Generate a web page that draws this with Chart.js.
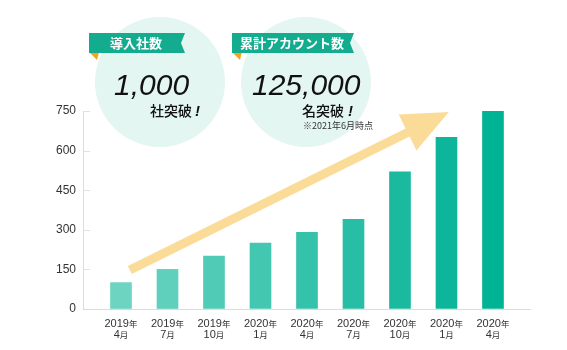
<!DOCTYPE html>
<html>
<head>
<meta charset="utf-8">
<script src="https://cdn.jsdelivr.net/npm/chart.js@4/dist/chart.umd.min.js"></script>
<style>
  html, body { margin: 0; padding: 0; background: #fff; }
</style>
</head>
<body>
<canvas id="chart" width="567" height="350"></canvas>
<script>
// data
var years = ['2019', '2019', '2019', '2020', '2020', '2020', '2020', '2020', '2020'];
var months = ['4', '7', '10', '1', '4', '7', '10', '1', '4'];
var companies = [100, 150, 200, 250, 290, 340, 520, 650, 750];
var yTicks = [0, 150, 300, 450, 600, 750];
var barColors = ['#6cd4c1', '#5ed0bb', '#50cbb5', '#43c7b0', '#35c2aa', '#28bea5', '#1bba9f', '#0db69a', '#00b394'];

// arrow in data units (x = category index, y = value)
var arrowFrom = { x: 0.19, y: 148 };
var arrowTo = { x: 7.05, y: 746 };

var numFont = '"Liberation Sans", "Noto Sans CJK JP", sans-serif';
var jpFont = '"Noto Sans CJK JP", sans-serif';

//decorations: circles, badges, arrow, x labels, inner ticks
var deco = {
    id: 'deco',
    beforeDraw: function (chart) {
        var c = chart.ctx;
        c.save();
        c.fillStyle = '#e3f6f2';
        c.beginPath();
        c.arc(160, 82, 65, 0, Math.PI * 2);
        c.fill();
        c.beginPath();
        c.arc(306, 82, 65, 0, Math.PI * 2);
        c.fill();
        c.restore();
    },
    afterDatasetsDraw: function (chart) {
        var c = chart.ctx;
        var xs = chart.scales.x, ys = chart.scales.y;
        var x0 = xs.getPixelForValue(arrowFrom.x), y0 = ys.getPixelForValue(arrowFrom.y);
        var x1 = xs.getPixelForValue(arrowTo.x), y1 = ys.getPixelForValue(arrowTo.y);
        var len = Math.hypot(x1 - x0, y1 - y0);
        var ux = (x1 - x0) / len, uy = (y1 - y0) / len;
        var px = -uy, py = ux;
        var headLen = 46, headW = 20, shaftW = 4.5;
        var bx = x1 - ux * headLen, by = y1 - uy * headLen;
        c.save();
        c.fillStyle = '#fadc98';
        c.beginPath();
        c.moveTo(x0 + px * shaftW, y0 + py * shaftW);
        c.lineTo(bx + px * shaftW, by + py * shaftW);
        c.lineTo(bx + px * headW, by + py * headW);
        c.lineTo(x1, y1);
        c.lineTo(bx - px * headW, by - py * headW);
        c.lineTo(bx - px * shaftW, by - py * shaftW);
        c.lineTo(x0 - px * shaftW, y0 - py * shaftW);
        c.closePath();
        c.fill();
        c.restore();
    },
    afterDraw: function (chart) {
        var c = chart.ctx;
        var xs = chart.scales.x, ys = chart.scales.y;
        c.save();

        // short inward ticks on y axis
        c.strokeStyle = '#e2e2e2';
        c.lineWidth = 1;
        yTicks.forEach(function (v) {
            if (v === 0) return;
            var y = Math.round(ys.getPixelForValue(v)) + 0.5;
            c.beginPath();
            c.moveTo(xs.left, y);
            c.lineTo(xs.left + 7, y);
            c.stroke();
        });

        // x labels: 2019年 / 4月 with small kanji
        c.fillStyle = '#333';
        c.textBaseline = 'alphabetic';
        c.textAlign = 'left';
        for (var i = 0; i < years.length; i++) {
            var cx = xs.getPixelForValue(i);
            mixed(c, cx, 327, years[i], '年');
            mixed(c, cx, 338, months[i], '月');
        }

        // badges
        badge(c, 89, 185, '導入社数');
        badge(c, 232, 354, '累計アカウント数');

        // big numbers
        c.fillStyle = '#111';
        c.textAlign = 'left';
        c.font = 'italic 30px ' + numFont;
        c.fillText('1,000', 114, 95);
        c.fillText('125,000', 252, 95);

        c.font = '500 14px ' + jpFont;
        c.textAlign = 'right';
        c.fillText('社突破', 192, 116);
        c.fillText('名突破', 344, 116);
        c.font = 'italic bold 15px ' + numFont;
        c.textAlign = 'left';
        c.fillText('!', 195, 116);
        c.fillText('!', 348, 116);

        c.font = '9px ' + jpFont;
        c.fillStyle = '#333';
        c.fillText('※2021年6月時点', 303, 129);
        c.restore();
    }
};

function mixed(c, cx, y, num, kanji) {
    c.font = '11px ' + numFont;
    var w1 = c.measureText(num).width;
    c.font = '8.5px ' + jpFont;
    var w2 = c.measureText(kanji).width;
    var sx = cx - (w1 + w2) / 2;
    c.font = '11px ' + numFont;
    c.fillText(num, sx, y);
    c.font = '8.5px ' + jpFont;
    c.fillText(kanji, sx + w1, y);
}

function badge(c, left, right, text) {
    c.fillStyle = '#f5a31a';
    c.beginPath();
    c.moveTo(left, 52);
    c.lineTo(left + 10, 52);
    c.lineTo(left + 8, 60);
    c.closePath();
    c.fill();

    c.fillStyle = '#14ac8e';
    c.beginPath();
    c.moveTo(left, 33);
    c.lineTo(right, 33);
    c.lineTo(right - 4, 43);
    c.lineTo(right, 53);
    c.lineTo(left, 53);
    c.closePath();
    c.fill();

    c.fillStyle = '#fff';
    c.font = 'bold 13px ' + jpFont;
    c.textAlign = 'center';
    c.textBaseline = 'middle';
    c.fillText(text, (left + right) / 2 - 1, 43);
    c.textBaseline = 'alphabetic';
}

var ctx = document.getElementById('chart').getContext('2d');
var chart = new Chart(ctx, {
    type: 'bar',
    data: {
        datasets: [{
            data: companies.map(function (v, i) { return { x: i, y: v }; }),
            backgroundColor: barColors,
            barThickness: 21,
            borderWidth: 0
        }]
    },
    options: {
        responsive: false,
        animation: false,
        layout: { padding: { left: 0, right: 37, top: 111, bottom: 0 } },
        plugins: { legend: { display: false }, tooltip: { enabled: false } },
        scales: {
            x: {
                type: 'linear',
                offset: false,
                min: -0.817,
                max: 8.796,
                grid: { display: true, drawOnChartArea: false, drawTicks: false, offset: false },
                border: { display: true, color: '#dcdcdc' },
                ticks: { display: false },
                afterFit: function (s) { s.height = 41; }
            },
            y: {
                min: 0,
                max: 750,
                afterBuildTicks: function (s) { s.ticks = yTicks.map(function (v) { return { value: v }; }); },
                ticks: { padding: 7, color: '#333', font: { size: 12, family: numFont } },
                grid: { display: true, drawOnChartArea: false, drawTicks: false },
                border: { display: true, color: '#dcdcdc' },
                afterFit: function (s) { s.width = 83; }
            }
        }
    },
    plugins: [deco]
});
</script>
</body>
</html>
